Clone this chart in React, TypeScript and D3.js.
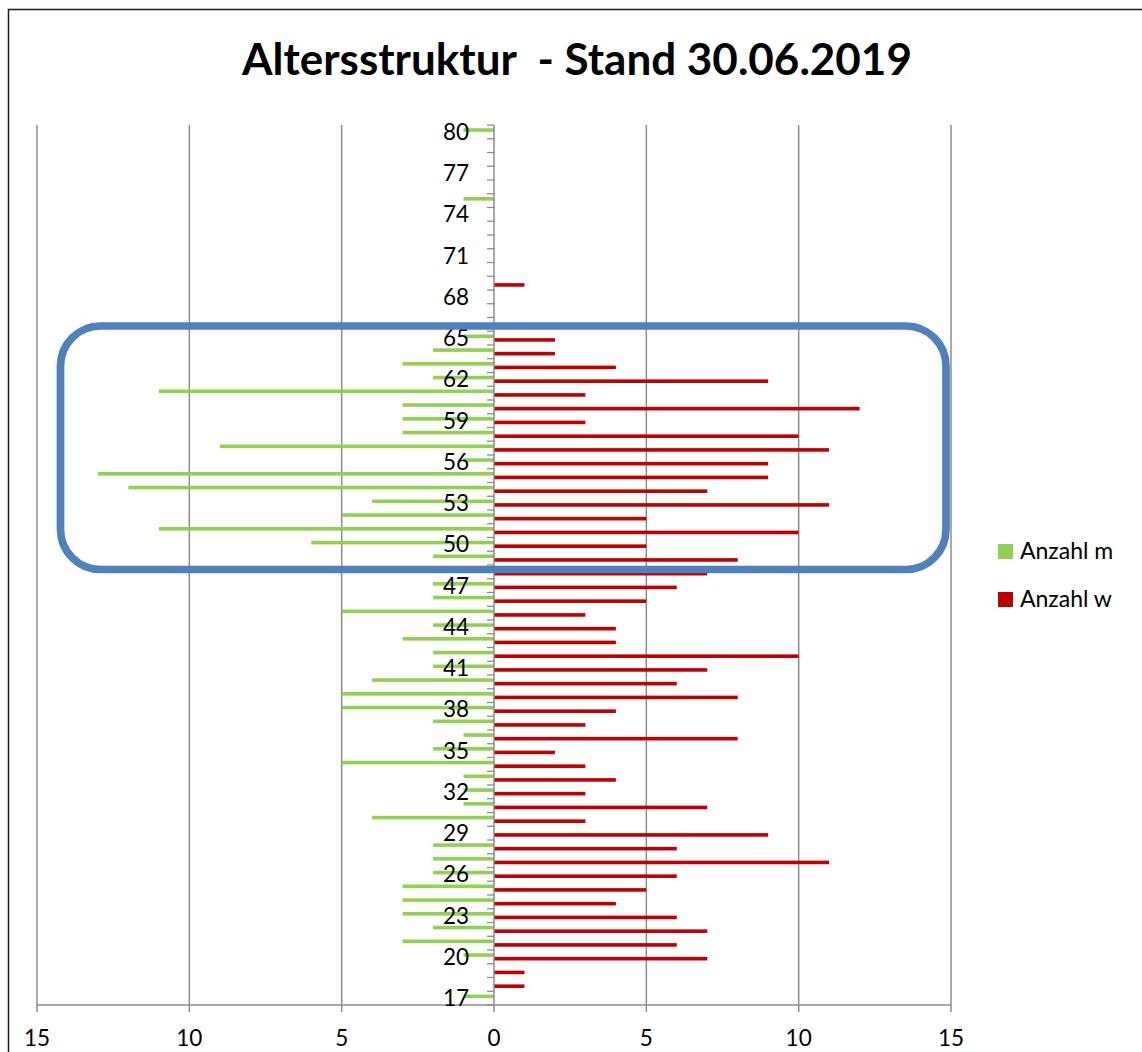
import React from "react";
import * as d3 from "d3";

const ages: number[] = d3.range(17, 81);
// Anzahl m, ages 17..80
const anzahlM: number[] = [
  1, 0, 0, 1, 3, 2, 3, 3, 3, 2, // 17-26
  2, 2, 0, 4, 1, 1, 1, 5, 2, 1, // 27-36
  2, 5, 5, 4, 2, 2, 3, 2, 5, 2, // 37-46
  2, 2, 2, 6, 11, 5, 4, 12, 13, 1, // 47-56
  9, 3, 3, 3, 11, 2, 3, 2, 1, 0, // 57-66
  0, 0, 0, 0, 0, 0, 0, 0, 1, 0, // 67-76
  0, 0, 0, 1, // 77-80
];
// Anzahl w, ages 17..80
const anzahlW: number[] = [
  0, 1, 1, 7, 6, 7, 6, 4, 5, 6, // 17-26
  11, 6, 9, 3, 7, 3, 4, 3, 2, 8, // 27-36
  3, 4, 8, 6, 7, 10, 4, 4, 3, 5, // 37-46
  6, 7, 8, 5, 10, 5, 11, 7, 9, 9, // 47-56
  11, 10, 3, 12, 3, 9, 4, 2, 2, 0, // 57-66
  0, 0, 1, 0, 0, 0, 0, 0, 0, 0, // 67-76
  0, 0, 0, 0, // 77-80
];
const xTicks: number[] = [-15, -10, -5, 0, 5, 10, 15];
const title = "Altersstruktur  - Stand 30.06.2019";
const seriesNames = ["Anzahl m", "Anzahl w"];

const FONT = "Lato, 'Open Sans', sans-serif";
const GREEN = "#92d050";
const RED = "#c00000";
const GRID = "#8c8c8c";

export default function App() {
  const W = 1142, H = 1052;
  const left = 37, right = 951, top = 125, bottom = 1005;
  const x = d3.scaleLinear().domain([-15, 15]).range([left, right]);
  const y = d3.scaleBand<number>().domain([...ages].reverse()).range([top, bottom]).padding(0);
  const step = y.step();
  const barH = 3.6;
  const x0 = x(0);
  const labelAges = ages.filter((a) => (a - 17) % 3 === 0);

  return (
    <div style={{ position: "absolute", left: 0, top: 0 }}>
      <svg width={W} height={H} style={{ display: "block", background: "#fff" }}>
        <rect x={8.5} y={9.5} width={1140} height={1050} fill="#fff" stroke="#1a1a1a" strokeWidth={1.5} />
        <text x={577} y={75} textAnchor="middle" fontFamily={FONT} fontWeight={700} fontSize={44} fill="#000" style={{ whiteSpace: "pre" }}>
          {title}
        </text>
        {/* vertical gridlines */}
        {xTicks.filter((t) => t !== 0).map((t) => (
          <line key={"g" + t} x1={x(t)} x2={x(t)} y1={top} y2={bottom} stroke={GRID} strokeWidth={1.5} />
        ))}
        {/* bars */}
        {ages.map((a, i) => {
          const c = (y(a) as number) + step / 2;
          const m = anzahlM[i], w = anzahlW[i];
          return (
            <g key={"b" + a}>
              {m > 0 && <rect x={x(-m)} y={c - barH} width={x0 - x(-m)} height={barH} fill={GREEN} />}
              {w > 0 && <rect x={x0} y={c} width={x(w) - x0} height={barH} fill={RED} />}
            </g>
          );
        })}
        {/* x axis */}
        <line x1={left} x2={right} y1={bottom} y2={bottom} stroke={GRID} strokeWidth={1.5} />
        {xTicks.map((t) => (
          <g key={"xt" + t}>
            <line x1={x(t)} x2={x(t)} y1={bottom} y2={bottom + 7} stroke={GRID} strokeWidth={1.5} />
            <text x={x(t)} y={1046} textAnchor="middle" fontFamily={FONT} fontSize={22.5} fill="#000">
              {Math.abs(t)}
            </text>
          </g>
        ))}
        {/* y axis */}
        <line x1={x0} x2={x0} y1={top} y2={bottom} stroke={GRID} strokeWidth={1.5} />
        {d3.range(ages.length + 1).map((i) => (
          <line key={"yt" + i} x1={x0 - 7} x2={x0} y1={top + i * step} y2={top + i * step} stroke={GRID} strokeWidth={1.3} />
        ))}
        {labelAges.map((a) => (
          <text key={"yl" + a} x={469} y={(y(a) as number) + step / 2 + 8} textAnchor="end" fontFamily={FONT} fontSize={22.5} fill="#000">
            {a}
          </text>
        ))}
        {/* highlight box */}
        <rect x={60.5} y={326} width={885.5} height={243.5} rx={40} ry={40} fill="none" stroke="#4f81bd" strokeWidth={7.7} />
        {/* legend */}
        <rect x={998} y={544} width={15} height={15} fill={GREEN} />
        <text x={1020} y={559} fontFamily={FONT} fontSize={23} fill="#000">{seriesNames[0]}</text>
        <rect x={998} y={592} width={15} height={15} fill={RED} />
        <text x={1020} y={607} fontFamily={FONT} fontSize={23} fill="#000">{seriesNames[1]}</text>
      </svg>
    </div>
  );
}
